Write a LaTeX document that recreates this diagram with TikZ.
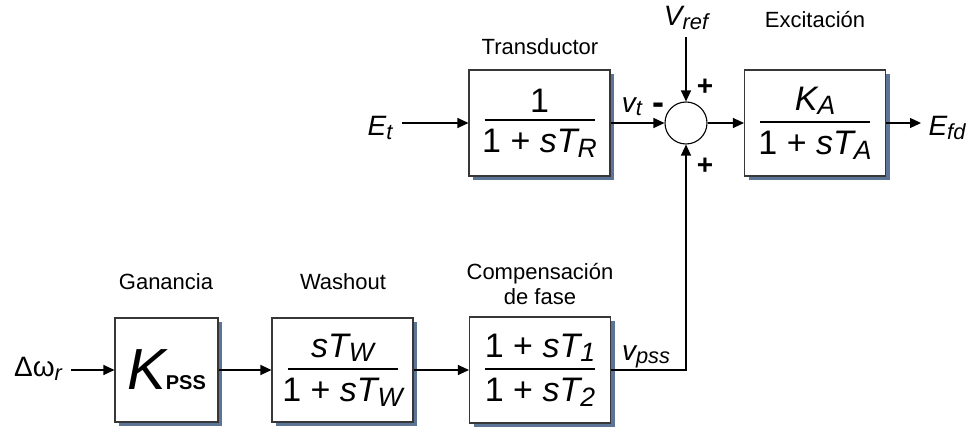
\documentclass[tikz,border=0pt]{standalone}
\usepackage{fontspec}
\setmainfont{Liberation Sans}
\usetikzlibrary{arrows.meta,positioning,shadows}

\definecolor{shadowblue}{RGB}{92,116,150}
\definecolor{boxgray}{RGB}{55,55,55}

% small lowered index, as in the drawing
\newcommand{\sbs}[1]{\raisebox{-0.12em}{\scalebox{0.78}{#1}}}
% transfer function: bar width, numerator, denominator
\newcommand{\blockfrac}[3]{\vbox{\offinterlineskip\halign{\hfil##\hfil\cr
  #2\cr\noalign{\kern7pt}\rule{#1}{1.2pt}\cr\noalign{\kern9pt}#3\cr}}}

\tikzset{
  block/.style={draw=boxgray, line width=1.1pt, fill=white,
    minimum width=141pt, minimum height=106pt, inner sep=0pt,
    drop shadow={shadow xshift=4pt, shadow yshift=-4pt, fill=shadowblue, opacity=1}},
  sumnode/.style={circle, draw, line width=1.1pt, fill=white, minimum size=42pt, inner sep=0pt},
  sig/.style={line width=1.2pt, -{Triangle[length=11pt,width=10pt]}},
  caption/.style={font=\fontsize{22}{25}\selectfont, align=center},
  tfont/.style={font=\fontsize{34}{40}\selectfont},
  siglabel/.style={font=\fontsize{28}{32}\selectfont\itshape},
  sign/.style={font=\fontsize{28}{32}\selectfont\bfseries}
}

\begin{document}
\begin{tikzpicture}[x=1pt, y=-1pt]
\useasboundingbox (0,0) rectangle (967,427);

% Upper loop: transducer, summing point, exciter
\node[block, tfont] (tr) at (539.5,123) {\blockfrac{110pt}{1}{1 + {\itshape sT\sbs{R}}}};
\node[sumnode] (sum) at (686,123) {};
\node[block, tfont] (exc) at (815,123) {\blockfrac{110pt}{\itshape K\sbs{A}}{1 + {\itshape sT\sbs{A}}}};

% Lower chain: PSS
\node[block, minimum width=103pt, minimum height=104pt] (gan) at (166.5,370)
  {{\fontsize{58}{60}\selectfont\itshape K}{\fontsize{20}{24}\selectfont\bfseries PSS}};
\node[block, tfont, minimum height=104pt] (wash) at (342.5,370) {\blockfrac{110pt}{\itshape sT\sbs{W}}{1 + {\itshape sT\sbs{W}}}};
\node[block, tfont] (comp) at (540,370) {\blockfrac{110pt}{1 + {\itshape sT\sbs{1}}}{1 + {\itshape sT\sbs{2}}}};

% Block titles
\node[caption] (trlab) at (540,47) {Transductor};
\node[caption] (exclab) at (815,20) {Excitación};
\node[caption] (ganlab) at (166,282) {Ganancia};
\node[caption] (washlab) at (343,282) {Washout};
\node[caption] (complab) at (540,284) {Compensación\\de fase};

% Signals
\node[siglabel] (et) at (380,128) {E\sbs{t}};
\node[siglabel] (vref) at (686,18) {V\sbs{ref}};
\node[siglabel] (efd) at (947,128) {E\sbs{fd}};
\node[siglabel] (dw) at (38,369) {{\upshape Δω}\sbs{r}};
\node[siglabel] (vt) at (632,107) {v\sbs{t}};
\node[siglabel] (vpss) at (646,357) {v\sbs{pss}};

% Signs at the summing point
\node[sign, font=\fontsize{36}{40}\selectfont\bfseries] (mn) at (658,109) {-};
\node[sign] (p1) at (705,87) {+};
\node[sign] (p2) at (705,166) {+};

% Connections
\draw[sig, shorten <=6pt] (et.east |- tr.west) -- (tr.west);
\draw[sig] (tr) -- (sum);
\draw[sig, shorten <=4pt] (vref) -- (sum);
\draw[sig] (sum) -- (exc);
\draw[sig, shorten >=4pt] (exc.east) -- (efd.west |- exc.east);
\draw[sig, shorten <=6pt] (dw.east |- gan.west) -- (gan.west);
\draw[sig] (gan) -- (wash);
\draw[sig] (wash) -- (comp);
\draw[sig] (comp.east) -| (sum.south);
\end{tikzpicture}
\end{document}
